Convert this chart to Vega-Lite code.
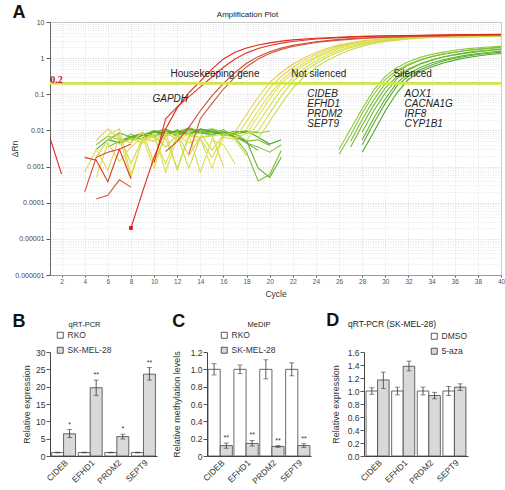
{
"$schema": "https://vega.github.io/schema/vega-lite/v6.json",
"padding": {"left": 9, "top": 3, "right": 0, "bottom": 0},
"background": "white",
"spacing": 12,
"config": {
 "font": "Liberation Sans",
 "view": {"stroke": null},
 "axis": {"labelFont": "Liberation Sans", "titleFont": "Liberation Sans", "titleFontWeight": "normal", "labelColor": "#333", "titleColor": "#333", "domainColor": "#555", "tickColor": "#555", "labelFlush": false, "labelOverlap": false},
 "legend": {"labelFont": "Liberation Sans", "labelColor": "#333"},
 "title": {"font": "Liberation Sans", "color": "#222"}
},
"datasets": {
 "curves": [
  {"id":"GN12","w":12,"c":[6,7,8,9,10,11,12,13,14,15,16,17,18,19,20],"v":[0.006,0.0045,0.008,0.0055,0.0095,0.007,0.0105,0.008,0.0098,0.011,0.009,0.0075,0.0095,0.0085,0.0095]},
  {"id":"GN13","w":13,"c":[5,6,7,8,9,10,11,12,13,14,15,16,17,18,19,20,21],"v":[0.004,0.007,0.0055,0.006,0.0075,0.01,0.0085,0.0095,0.011,0.0085,0.0075,0.0095,0.008,0.0045,0.0035,0.0025,0.004]},
  {"id":"GN14","w":14,"c":[6,7,8,9,10,11,12,13,14,15,16,17,18,19,20,21],"v":[0.0035,0.005,0.006,0.0075,0.0065,0.009,0.0085,0.012,0.0095,0.0085,0.0105,0.0065,0.0025,0.0004,0.0006,0.0028]},
  {"id":"GN15","w":15,"c":[7,8,9,10,11,12,13,14,15,16,17,18,19,20],"v":[0.0045,0.0065,0.0085,0.0075,0.0095,0.0068,0.0105,0.0085,0.0095,0.007,0.0085,0.005,0.0055,0.0038]},
  {"id":"GN16","w":16,"c":[6,7,8,9,10,11,12,13,14,15,16,17,18,19],"v":[0.0055,0.0085,0.0065,0.0072,0.0088,0.011,0.0078,0.0092,0.0082,0.0105,0.0078,0.0068,0.0045,0.0028]},
  {"id":"GN17","w":17,"c":[8,9,10,11,12,13,14,15,16,17,18,19,20,21],"v":[0.0055,0.0062,0.0095,0.0082,0.0075,0.0115,0.0088,0.0078,0.009,0.0065,0.0052,0.0009,0.0005,0.0018]},
  {"id":"GN18","w":18,"c":[5,6,7,8,9,10,11,12,13,14,15,16,17,18,19],"v":[0.003,0.0055,0.0045,0.0068,0.0082,0.0072,0.0098,0.0088,0.0078,0.011,0.0092,0.0082,0.0095,0.0085,0.0092]},
  {"id":"GN19","w":19,"c":[7,8,9,10,11,12,13,14,15,16,17,18,19,20,21],"v":[0.0048,0.0058,0.0072,0.0092,0.0085,0.0098,0.0078,0.0108,0.0092,0.0075,0.0088,0.0098,0.0065,0.0042,0.0055]},
  {"id":"G12","w":12,"c":[26,27,28,29,30,31,32,33,34,35,36,37,38,39,40],"v":[0.003,0.011,0.04,0.13,0.32,0.55,0.8,1.05,1.27,1.47,1.65,1.8,1.93,2.04,2.15]},
  {"id":"G13","w":13,"c":[26,27,28,29,30,31,32,33,34,35,36,37,38,39,40],"v":[0.0022,0.0075,0.03,0.1,0.26,0.46,0.68,0.9,1.1,1.3,1.46,1.62,1.75,1.86,1.96]},
  {"id":"G14","w":14,"c":[27,28,29,30,31,32,33,34,35,36,37,38,39,40],"v":[0.005,0.02,0.07,0.2,0.41,0.64,0.87,1.09,1.29,1.47,1.63,1.78,1.91,2.02]},
  {"id":"G15","w":15,"c":[27,28,29,30,31,32,33,34,35,36,37,38,39,40],"v":[0.0035,0.014,0.05,0.15,0.31,0.5,0.7,0.89,1.07,1.23,1.38,1.51,1.63,1.73]},
  {"id":"G16","w":16,"c":[28,29,30,31,32,33,34,35,36,37,38,39,40],"v":[0.009,0.035,0.11,0.27,0.47,0.68,0.88,1.08,1.26,1.42,1.56,1.68,1.79]},
  {"id":"G17","w":17,"c":[28,29,30,31,32,33,34,35,36,37,38,39,40],"v":[0.0055,0.022,0.075,0.21,0.37,0.55,0.73,0.9,1.06,1.21,1.34,1.46,1.56]},
  {"id":"G18","w":18,"c":[28,29,30,31,32,33,34,35,36,37,38,39,40],"v":[0.004,0.016,0.057,0.17,0.32,0.48,0.65,0.83,0.99,1.13,1.26,1.37,1.47]},
  {"id":"G19","w":19,"c":[28,29,30,31,32,33,34,35,36,37,38,39,40],"v":[0.0025,0.009,0.035,0.11,0.26,0.42,0.57,0.73,0.88,1.02,1.15,1.26,1.35]},
  {"id":"YN5","w":5,"c":[5,6,7,8,9,10,11,12,13,14,15,16],"v":[0.0053,0.011,0.006,0.0045,0.009,0.0013,0.007,0.0085,0.002,0.0065,0.0075,0.001]},
  {"id":"YN6","w":6,"c":[4,5,6,7,8,9,10,11,12,13,14],"v":[0.0007,0.003,0.0008,0.0065,0.0005,0.0055,0.008,0.006,0.0009,0.007,0.0065]},
  {"id":"YN7","w":7,"c":[5,6,7,8,9,10,11,12,13,14,15,16,17],"v":[0.0005,0.0045,0.0014,0.0035,0.0065,0.0009,0.009,0.0055,0.008,0.0007,0.0055,0.004,0.0012]},
  {"id":"YN8","w":8,"c":[6,7,8,9,10,11,12,13,14,15,16],"v":[0.0075,0.011,0.0006,0.0055,0.0065,0.0012,0.0075,0.0045,0.006,0.0009,0.007]},
  {"id":"YN9","w":9,"c":[7,8,9,10,11,12,13,14,15,16,17,18],"v":[0.004,0.006,0.0045,0.0078,0.0007,0.0065,0.0085,0.006,0.0018,0.0065,0.0055,0.002]},
  {"id":"YN10","w":10,"c":[5,6,7,8,9,10,11,12,13,14,15,16,17],"v":[0.0018,0.0055,0.0075,0.0012,0.006,0.005,0.009,0.0008,0.007,0.0085,0.0028,0.0075,0.009]},
  {"id":"YN11","w":11,"c":[8,9,10,11,12,13,14,15,16,17,18,19],"v":[0.005,0.0085,0.007,0.0035,0.0075,0.0009,0.0065,0.007,0.008,0.006,0.0085,0.0095]},
  {"id":"Y5","w":5,"c":[17,18,19,20,21,22,23,24,25,26,27,28,30,32,35,40],"v":[0.0089,0.028,0.083,0.213,0.4,0.68,1.03,1.44,1.89,2.33,2.68,3.02,3.47,3.77,3.95,4.05]},
  {"id":"Y6","w":6,"c":[17,18,19,20,21,22,23,24,25,26,27,28,30,32,35,40],"v":[0.0059,0.018,0.054,0.148,0.31,0.55,0.88,1.27,1.7,2.15,2.54,2.9,3.39,3.7,3.9,4.05]},
  {"id":"Y7","w":7,"c":[18,19,20,21,22,23,24,25,26,27,28,30,32,35,40],"v":[0.011,0.035,0.1,0.24,0.45,0.74,1.1,1.52,1.97,2.4,2.75,3.3,3.63,3.88,4.03]},
  {"id":"Y8","w":8,"c":[18,19,20,21,22,23,24,25,26,27,28,29,31,33,36,40],"v":[0.008,0.025,0.075,0.2,0.38,0.65,1.0,1.4,1.85,2.3,2.65,3.0,3.45,3.75,3.93,4.0]},
  {"id":"Y9","w":9,"c":[18,19,20,21,22,23,24,25,26,27,28,29,31,33,36,40],"v":[0.0052,0.016,0.048,0.135,0.29,0.52,0.85,1.22,1.65,2.1,2.5,2.85,3.35,3.68,3.9,4.0]},
  {"id":"Y10","w":10,"c":[19,20,21,22,23,24,25,26,27,28,29,30,32,34,37,40],"v":[0.0095,0.03,0.09,0.23,0.43,0.71,1.07,1.5,1.95,2.38,2.72,3.05,3.5,3.8,3.93,3.98]},
  {"id":"Y11","w":11,"c":[19,20,21,22,23,24,25,26,27,28,29,30,32,34,37,40],"v":[0.0059,0.018,0.054,0.148,0.31,0.55,0.88,1.27,1.7,2.15,2.54,2.9,3.4,3.72,3.9,3.98]},
  {"id":"R1n","w":1,"c":[1,2],"v":[0.0062,0.00062]},
  {"id":"R2n","w":2,"c":[4,5,6,7,8],"v":[0.0018,0.0015,0.00038,0.003,0.00046]},
  {"id":"R3n","w":3,"c":[4,5,6,7,8],"v":[0.0002,0.0018,0.0025,0.003,0.0042]},
  {"id":"R4n","w":4,"c":[5,6,7,8],"v":[0.000126,0.00016,0.00043,0.00027]},
  {"id":"R4","w":4,"c":[13,14,15,16,17,18,19,20,21,22,24,26,28,30,33,36,40],"v":[0.0022,0.021,0.055,0.14,0.3,0.58,0.95,1.35,1.75,2.1,2.7,3.15,3.5,3.75,4.0,4.2,4.35]},
  {"id":"R3","w":3,"c":[11,12,13,14,15,16,17,18,19,20,21,22,24,26,28,30,33,36,40],"v":[0.0026,0.005,0.012,0.035,0.09,0.2,0.4,0.72,1.1,1.5,1.9,2.25,2.85,3.3,3.6,3.85,4.05,4.25,4.4]},
  {"id":"R2","w":2,"c":[10,11,12,13,14,15,16,17,18,19,20,21,22,24,26,28,30,33,36,40],"v":[0.0013,0.021,0.045,0.085,0.16,0.3,0.56,0.95,1.4,1.85,2.25,2.6,2.9,3.4,3.7,3.95,4.1,4.25,4.4,4.5]},
  {"id":"R1","w":1,"c":[8,9,10,11,12,13,14,15,16,17,18,19,20,21,22,24,26,28,30,33,36,40],"v":[0.00002,0.0002,0.0018,0.011,0.042,0.11,0.23,0.5,0.95,1.45,1.9,2.3,2.65,2.95,3.2,3.55,3.8,4.0,4.15,4.3,4.45,4.6]}
 ],
 "threshold": [{"v": 0.2}],
 "marker": [{"c": 8, "v": 0.00002}],
 "notes": [
  {"c": 11.42, "v": 0.31, "t": "Housekeeping gene", "k": "label"},
  {"c": 21.86, "v": 0.31, "t": "Not silenced", "k": "label"},
  {"c": 30.7, "v": 0.30, "t": "Silenced", "k": "label"},
  {"c": 9.86, "v": 0.063, "t": "GAPDH", "k": "gene"},
  {"c": 23.25, "v": 0.0841, "t": "CIDEB", "k": "gene"},
  {"c": 23.25, "v": 0.0445, "t": "EFHD1", "k": "gene"},
  {"c": 23.25, "v": 0.0235, "t": "PRDM2", "k": "gene"},
  {"c": 23.25, "v": 0.01245, "t": "SEPT9", "k": "gene"},
  {"c": 31.66, "v": 0.0841, "t": "AOX1", "k": "gene"},
  {"c": 31.66, "v": 0.0445, "t": "CACNA1G", "k": "gene"},
  {"c": 31.66, "v": 0.0235, "t": "IRF8", "k": "gene"},
  {"c": 31.66, "v": 0.01245, "t": "CYP1B1", "k": "gene"},
  {"c": 1.03, "v": 0.2, "t": "0.2", "k": "thr"}
 ],
 "qpcr": [
  {"gene":"CIDEB","grp":"RKO","val":1,"lo":0.9,"hi":1.1,"sig":""},
  {"gene":"CIDEB","grp":"SK-MEL-28","val":6.4,"lo":5.3,"hi":7.6,"sig":"*"},
  {"gene":"EFHD1","grp":"RKO","val":1,"lo":0.9,"hi":1.1,"sig":""},
  {"gene":"EFHD1","grp":"SK-MEL-28","val":19.7,"lo":17.4,"hi":21.9,"sig":"**"},
  {"gene":"PRDM2","grp":"RKO","val":1,"lo":0.9,"hi":1.1,"sig":""},
  {"gene":"PRDM2","grp":"SK-MEL-28","val":5.6,"lo":4.9,"hi":6.3,"sig":"*"},
  {"gene":"SEPT9","grp":"RKO","val":1,"lo":0.9,"hi":1.1,"sig":""},
  {"gene":"SEPT9","grp":"SK-MEL-28","val":23.6,"lo":21.9,"hi":25.5,"sig":"**"}
 ],
 "medip": [
  {"gene":"CIDEB","grp":"RKO","val":1,"lo":0.935,"hi":1.065,"sig":""},
  {"gene":"CIDEB","grp":"SK-MEL-28","val":0.12,"lo":0.09,"hi":0.15,"sig":"**"},
  {"gene":"EFHD1","grp":"RKO","val":1,"lo":0.95,"hi":1.05,"sig":""},
  {"gene":"EFHD1","grp":"SK-MEL-28","val":0.145,"lo":0.115,"hi":0.18,"sig":"**"},
  {"gene":"PRDM2","grp":"RKO","val":1,"lo":0.89,"hi":1.11,"sig":""},
  {"gene":"PRDM2","grp":"SK-MEL-28","val":0.11,"lo":0.1,"hi":0.12,"sig":"**"},
  {"gene":"SEPT9","grp":"RKO","val":1,"lo":0.925,"hi":1.075,"sig":""},
  {"gene":"SEPT9","grp":"SK-MEL-28","val":0.12,"lo":0.1,"hi":0.14,"sig":"**"}
 ],
 "aza": [
  {"gene":"CIDEB","grp":"DMSO","val":1,"lo":0.95,"hi":1.05},
  {"gene":"CIDEB","grp":"5-aza","val":1.17,"lo":1.04,"hi":1.29},
  {"gene":"EFHD1","grp":"DMSO","val":1,"lo":0.94,"hi":1.06},
  {"gene":"EFHD1","grp":"5-aza","val":1.38,"lo":1.31,"hi":1.46},
  {"gene":"PRDM2","grp":"DMSO","val":1,"lo":0.94,"hi":1.06},
  {"gene":"PRDM2","grp":"5-aza","val":0.93,"lo":0.88,"hi":0.98},
  {"gene":"SEPT9","grp":"DMSO","val":1,"lo":0.93,"hi":1.07},
  {"gene":"SEPT9","grp":"5-aza","val":1.06,"lo":1.01,"hi":1.11}
 ]
},
"vconcat": [
 {
  "title": {"text": "A", "anchor": "start", "frame": "bounds", "fontSize": 18, "fontWeight": "bold", "color": "#111", "offset": -11, "dx": 3},
  "vconcat": [
   {
    "title": {"text": "Amplification Plot", "fontSize": 8, "fontWeight": "normal", "color": "#222", "offset": -1, "dx": -28},
    "width": 451,
    "height": 253,
    "view": {"stroke": "#c8c8c8"},
    "resolve": {"axis": {"x": "independent", "y": "independent"}},
    "layer": [
     {
      "data": {"name": "curves"},
      "transform": [{"flatten": ["c", "v"]}],
      "mark": {"type": "line", "strokeWidth": 1.1, "clip": true},
      "encoding": {
       "x": {"field": "c", "type": "quantitative", "scale": {"domain": [1, 40], "nice": false, "zero": false},
        "axis": {"title": "Cycle", "titleFontSize": 8.5, "titlePadding": 5, "values": [2,4,6,8,10,12,14,16,18,20,22,24,26,28,30,32,34,36,38,40],
         "labelFontSize": 6.5, "labelColor": "#555", "labelPadding": 1, "tickSize": 2, "labelOverlap": false, "labelFlush": false,
         "grid": true, "gridColor": "#d4d4d4", "gridDash": [1, 1.5], "gridWidth": 0.7, "domainColor": "#999"}},
       "y": {"field": "v", "type": "quantitative", "scale": {"type": "log", "domain": [0.000001, 10], "nice": false},
        "axis": {"title": "ΔRn", "titleFontSize": 8.5, "titlePadding": 3, "maxExtent": 28, "minExtent": 28, "labelOverlap": false, "labelFlush": false,
         "values": [0.000001,0.000002,0.000003,0.000004,0.000005,0.000006,0.000007,0.000008,0.000009,0.00001,0.00002,0.00003,0.00004,0.00005,0.00006,0.00007,0.00008,0.00009,0.0001,0.0002,0.0003,0.0004,0.0005,0.0006,0.0007,0.0008,0.0009,0.001,0.002,0.003,0.004,0.005,0.006,0.007,0.008,0.009,0.01,0.02,0.03,0.04,0.05,0.06,0.07,0.08,0.09,0.1,0.2,0.3,0.4,0.5,0.6,0.7,0.8,0.9,1,2,3,4,5,6,7,8,9,10],
         "labelExpr": "abs(log(datum.value)/LN10 - round(log(datum.value)/LN10)) < 0.01 ? format(datum.value, '.6~f') : ''",
         "labelFontSize": 7, "labelColor": "#444", "labelPadding": 2, "tickSize": 4,
         "tickOpacity": {"condition": {"test": "abs(log(datum.value)/LN10 - round(log(datum.value)/LN10)) < 0.01", "value": 1}, "value": 0},
         "grid": true, "gridDash": [1, 1.5], "gridWidth": 0.7,
         "gridColor": {"condition": {"test": "abs(log(datum.value)/LN10 - round(log(datum.value)/LN10)) < 0.01", "value": "#c4c4c4"}, "value": "#dedede"},
         "domainColor": "#666"}},
       "color": {"field": "w", "type": "quantitative", "scale": {"domain": [1, 4, 5, 8, 11, 12, 19], "range": ["#e3261a", "#cd5a3a", "#e6cf4a", "#dde24c", "#c6dc46", "#8fcb3c", "#4fa62c"], "interpolate": "rgb"}, "legend": null},
       "detail": {"field": "id", "type": "nominal"}
      }
     },
     {
      "data": {"name": "threshold"},
      "mark": {"type": "rule", "color": "#d3e54e", "strokeWidth": 2.6},
      "encoding": {"y": {"field": "v", "type": "quantitative", "axis": null}}
     },
     {
      "data": {"name": "marker"},
      "mark": {"type": "square", "color": "#e01010", "size": 14, "opacity": 1, "filled": true},
      "encoding": {"x": {"field": "c", "type": "quantitative", "axis": null}, "y": {"field": "v", "type": "quantitative", "axis": null}}
     },
     {
      "data": {"name": "notes"},
      "transform": [{"filter": "datum.k == 'label'"}],
      "mark": {"type": "text", "align": "left", "baseline": "alphabetic", "fontSize": 10, "color": "#222"},
      "encoding": {"x": {"field": "c", "type": "quantitative", "axis": null}, "y": {"field": "v", "type": "quantitative", "axis": null}, "text": {"field": "t"}}
     },
     {
      "data": {"name": "notes"},
      "transform": [{"filter": "datum.k == 'gene'"}],
      "mark": {"type": "text", "align": "left", "baseline": "alphabetic", "fontSize": 10, "fontStyle": "italic", "color": "#222"},
      "encoding": {"x": {"field": "c", "type": "quantitative", "axis": null}, "y": {"field": "v", "type": "quantitative", "axis": null}, "text": {"field": "t"}}
     },
     {
      "data": {"name": "notes"},
      "transform": [{"filter": "datum.k == 'thr'"}],
      "mark": {"type": "text", "align": "left", "baseline": "alphabetic", "fontSize": 10, "fontWeight": "bold", "font": "Liberation Serif", "color": "#c8102e"},
      "encoding": {"x": {"field": "c", "type": "quantitative", "axis": null}, "y": {"field": "v", "type": "quantitative", "axis": null}, "text": {"field": "t"}}
     }
    ]
   }
  ]
 },
 {
  "hconcat": [
   {
    "title": {"text": "B", "anchor": "start", "frame": "bounds", "fontSize": 18, "fontWeight": "bold", "color": "#111", "offset": -10, "dx": -10},
    "vconcat": [
     {
      "title": {"text": "qRT-PCR", "fontSize": 7.5, "fontWeight": "normal", "offset": 20, "dx": -19},
      "width": 107, "height": 104,
      "data": {"name": "qpcr"},
      "resolve": {"axis": {"y": "independent"}},
      "encoding": {
       "x": {"field": "gene", "type": "nominal", "sort": ["CIDEB","EFHD1","PRDM2","SEPT9"], "scale": {"paddingInner": 0.1, "paddingOuter": 0.06},
        "axis": {"title": null, "labelAngle": -45, "ticks": false, "labelFontSize": 8.5, "labelPadding": 2, "domainColor": "#444", "labelOverlap": false}},
       "xOffset": {"field": "grp", "type": "nominal", "sort": ["RKO","SK-MEL-28"], "scale": {"paddingInner": 0}}
      },
      "layer": [
       {"mark": {"type": "bar", "stroke": "#444", "strokeWidth": 0.8},
        "encoding": {
         "y": {"field": "val", "type": "quantitative", "scale": {"domain": [0, 30]},
          "axis": {"values": [0,5,10,15,20,25,30], "labelOverlap": false, "title": "Relative expression", "titleFontSize": 9, "titlePadding": 4, "labelFontSize": 8.5, "labelPadding": 1, "tickSize": 4, "grid": false, "domainColor": "#444"}},
         "fill": {"field": "grp", "type": "nominal", "sort": ["RKO","SK-MEL-28"], "scale": {"domain": ["RKO","SK-MEL-28"], "range": ["#ffffff","#d9d9d9"]},
          "legend": {"title": null, "orient": "none", "legendX": 6, "legendY": -21, "symbolType": "square", "symbolSize": 36, "symbolStrokeColor": "#333", "symbolStrokeWidth": 0.8, "labelFontSize": 8.5, "labelOffset": 3, "rowPadding": 5, "padding": 0}}
        }},
       {"mark": {"type": "rule", "color": "#333", "strokeWidth": 0.8}, "encoding": {"y": {"field": "lo", "type": "quantitative", "axis": null}, "y2": {"field": "hi"}}},
       {"mark": {"type": "tick", "color": "#333", "size": 5, "thickness": 0.8}, "encoding": {"y": {"field": "lo", "type": "quantitative", "axis": null}}},
       {"mark": {"type": "tick", "color": "#333", "size": 5, "thickness": 0.8}, "encoding": {"y": {"field": "hi", "type": "quantitative", "axis": null}}},
       {"mark": {"type": "text", "baseline": "bottom", "dy": -2, "fontSize": 7, "color": "#333"}, "encoding": {"y": {"field": "hi", "type": "quantitative", "axis": null}, "text": {"field": "sig"}}}
      ]
     }
    ]
   },
   {
    "title": {"text": "C", "anchor": "start", "frame": "bounds", "fontSize": 18, "fontWeight": "bold", "color": "#111", "offset": -10, "dx": 0},
    "vconcat": [
     {
      "title": {"text": "MeDIP", "fontSize": 7.5, "fontWeight": "normal", "offset": 20, "dx": 0},
      "width": 104, "height": 104,
      "data": {"name": "medip"},
      "resolve": {"axis": {"y": "independent"}},
      "encoding": {
       "x": {"field": "gene", "type": "nominal", "sort": ["CIDEB","EFHD1","PRDM2","SEPT9"], "scale": {"paddingInner": 0.06, "paddingOuter": 0.04},
        "axis": {"title": null, "labelAngle": -45, "ticks": false, "labelFontSize": 8.5, "labelPadding": 2, "domainColor": "#444", "labelOverlap": false}},
       "xOffset": {"field": "grp", "type": "nominal", "sort": ["RKO","SK-MEL-28"], "scale": {"paddingInner": 0}}
      },
      "layer": [
       {"mark": {"type": "bar", "stroke": "#444", "strokeWidth": 0.8},
        "encoding": {
         "y": {"field": "val", "type": "quantitative", "scale": {"domain": [0, 1.2]},
          "axis": {"values": [0,0.2,0.4,0.6,0.8,1.0,1.2], "format": ".1f", "labelExpr": "datum.value == 0 ? '0' : datum.label", "labelOverlap": false, "title": "Relative methylation levels", "titleFontSize": 9, "titlePadding": 9, "labelFontSize": 8.5, "labelPadding": 1, "tickSize": 4, "grid": false, "domainColor": "#444"}},
         "fill": {"field": "grp", "type": "nominal", "sort": ["RKO","SK-MEL-28"], "scale": {"domain": ["RKO","SK-MEL-28"], "range": ["#ffffff","#d9d9d9"]},
          "legend": {"title": null, "orient": "none", "legendX": 13, "legendY": -21, "symbolType": "square", "symbolSize": 36, "symbolStrokeColor": "#333", "symbolStrokeWidth": 0.8, "labelFontSize": 8.5, "labelOffset": 3, "rowPadding": 5, "padding": 0}}
        }},
       {"mark": {"type": "rule", "color": "#333", "strokeWidth": 0.8}, "encoding": {"y": {"field": "lo", "type": "quantitative", "axis": null}, "y2": {"field": "hi"}}},
       {"mark": {"type": "tick", "color": "#333", "size": 5, "thickness": 0.8}, "encoding": {"y": {"field": "lo", "type": "quantitative", "axis": null}}},
       {"mark": {"type": "tick", "color": "#333", "size": 5, "thickness": 0.8}, "encoding": {"y": {"field": "hi", "type": "quantitative", "axis": null}}},
       {"mark": {"type": "text", "baseline": "bottom", "dy": -2, "fontSize": 7, "color": "#333"}, "encoding": {"y": {"field": "hi", "type": "quantitative", "axis": null}, "text": {"field": "sig"}}}
      ]
     }
    ]
   },
   {
    "title": {"text": "D", "anchor": "start", "frame": "bounds", "fontSize": 18, "fontWeight": "bold", "color": "#111", "offset": -10, "dx": -5},
    "vconcat": [
     {
      "title": {"text": "qRT-PCR (SK-MEL-28)", "fontSize": 8.5, "fontWeight": "normal", "offset": 20, "dx": -24},
      "width": 104, "height": 104,
      "data": {"name": "aza"},
      "resolve": {"axis": {"y": "independent"}},
      "encoding": {
       "x": {"field": "gene", "type": "nominal", "sort": ["CIDEB","EFHD1","PRDM2","SEPT9"], "scale": {"paddingInner": 0.1, "paddingOuter": 0.08},
        "axis": {"title": null, "labelAngle": -45, "ticks": false, "labelFontSize": 8.5, "labelPadding": 2, "domainColor": "#444", "labelOverlap": false}},
       "xOffset": {"field": "grp", "type": "nominal", "sort": ["DMSO","5-aza"], "scale": {"paddingInner": 0}}
      },
      "layer": [
       {"mark": {"type": "bar", "stroke": "#444", "strokeWidth": 0.8},
        "encoding": {
         "y": {"field": "val", "type": "quantitative", "scale": {"domain": [0, 1.6]},
          "axis": {"values": [0,0.2,0.4,0.6,0.8,1.0,1.2,1.4,1.6], "format": ".1f", "labelOverlap": false, "title": "Relative expression", "titleFontSize": 9, "titlePadding": 7, "labelFontSize": 8.5, "labelPadding": 1, "tickSize": 4, "grid": false, "domainColor": "#444"}},
         "fill": {"field": "grp", "type": "nominal", "sort": ["DMSO","5-aza"], "scale": {"domain": ["DMSO","5-aza"], "range": ["#ffffff","#d9d9d9"]},
          "legend": {"title": null, "orient": "none", "legendX": 66, "legendY": -20, "symbolType": "square", "symbolSize": 36, "symbolStrokeColor": "#333", "symbolStrokeWidth": 0.8, "labelFontSize": 8.5, "labelOffset": 3, "rowPadding": 5, "padding": 0}}
        }},
       {"mark": {"type": "rule", "color": "#333", "strokeWidth": 0.8}, "encoding": {"y": {"field": "lo", "type": "quantitative", "axis": null}, "y2": {"field": "hi"}}},
       {"mark": {"type": "tick", "color": "#333", "size": 5, "thickness": 0.8}, "encoding": {"y": {"field": "lo", "type": "quantitative", "axis": null}}},
       {"mark": {"type": "tick", "color": "#333", "size": 5, "thickness": 0.8}, "encoding": {"y": {"field": "hi", "type": "quantitative", "axis": null}}}
      ]
     }
    ]
   }
  ],
  "spacing": 15,
  "resolve": {"scale": {"fill": "independent", "xOffset": "independent"}, "legend": {"fill": "independent"}}
 }
]
}
